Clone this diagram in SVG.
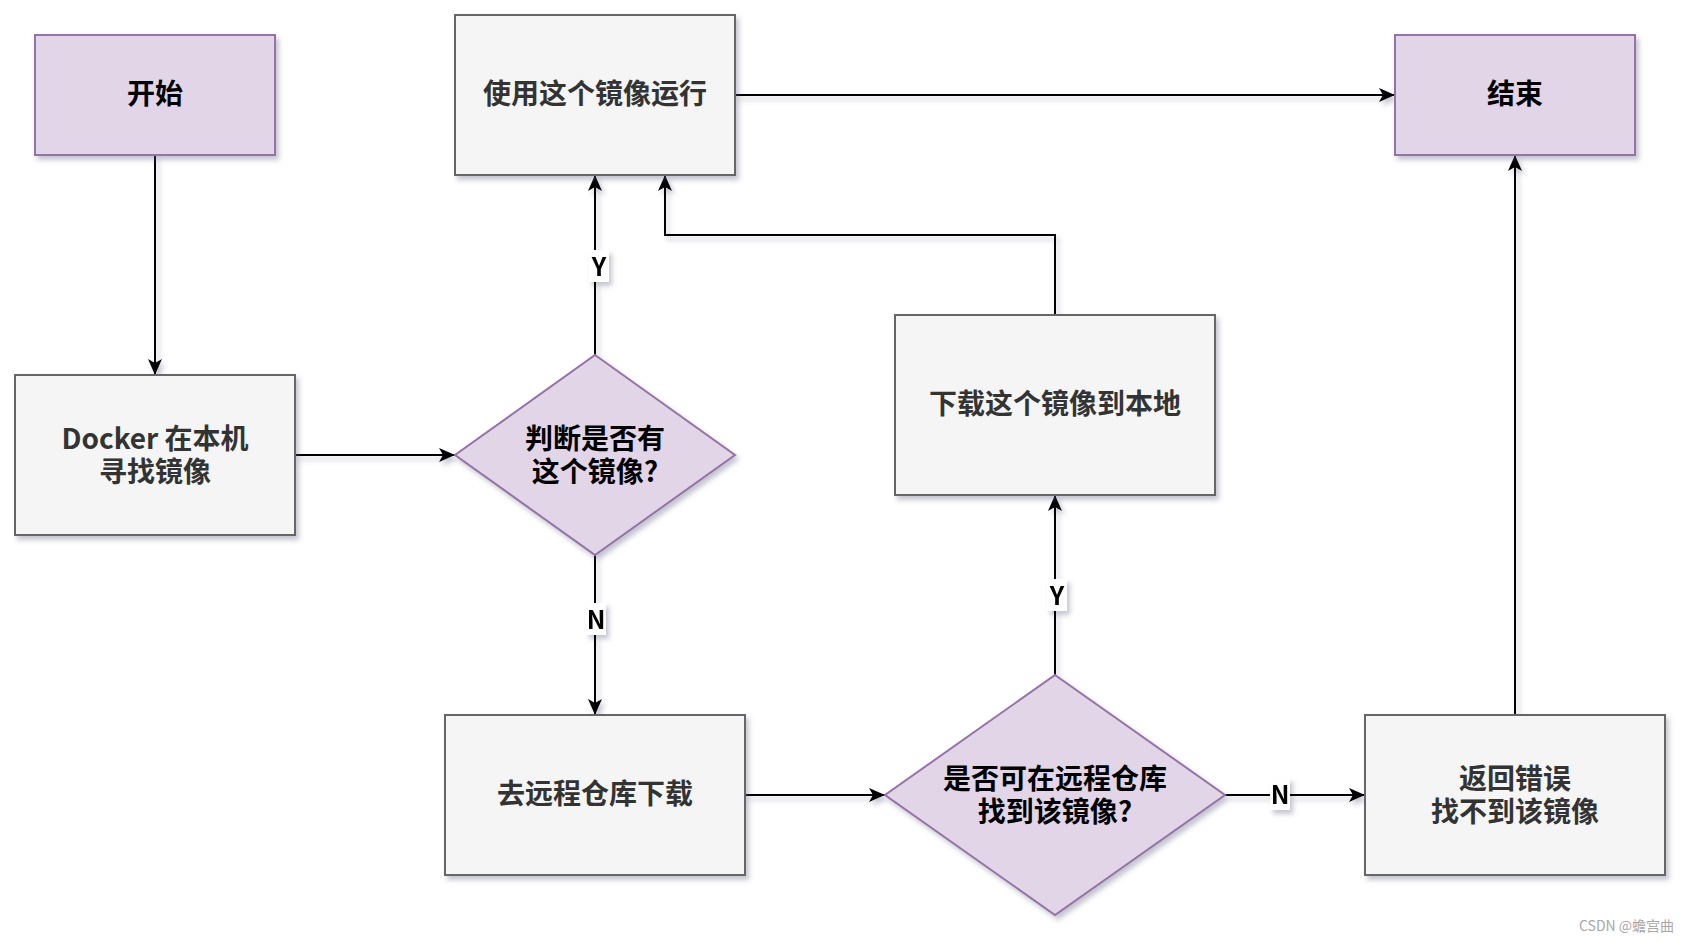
<svg xmlns="http://www.w3.org/2000/svg" width="1692" height="942" viewBox="0 0 1692 942">
<defs>
<filter id="sh" x="-10%" y="-10%" width="130%" height="130%">
<feDropShadow dx="3" dy="4" stdDeviation="2.5" flood-color="#5a5a80" flood-opacity="0.35"/>
</filter>
<marker id="arr" markerWidth="18" markerHeight="16" refX="16" refY="7" orient="auto" markerUnits="userSpaceOnUse">
<path d="M0,0 L16,7 L0,14 L4,7 Z" fill="#000"/>
</marker>
<style>
.gray{fill:#f5f5f5;stroke:#666666;stroke-width:2}
.purple{fill:#e1d5e7;stroke:#9673a6;stroke-width:2}
.t{font-family:"Noto Sans CJK SC","Noto Sans",sans-serif;font-weight:bold;font-size:28px;text-anchor:middle;dominant-baseline:central}
.tg{fill:#333333}
.tp{fill:#000000}
.edge{fill:none;stroke:#000;stroke-width:2;marker-end:url(#arr)}
.lbl{font-family:"Noto Sans CJK SC","Noto Sans",sans-serif;font-weight:bold;font-size:25px;text-anchor:middle;dominant-baseline:central;fill:#000}
.wm{font-family:"Noto Sans CJK SC","Noto Sans",sans-serif;font-size:14px;fill:#a8a8a8}
</style>
</defs>
<rect width="1692" height="942" fill="#ffffff"/>

<g id="connectors" filter="url(#sh)">
<path class="edge" d="M155,155 L155,375"/>
<path class="edge" d="M295,455 L455,455"/>
<path class="edge" d="M595,355 L595,175"/>
<path class="edge" d="M595,555 L595,715"/>
<path class="edge" d="M735,95 L1395,95"/>
<path class="edge" d="M1055,315 L1055,235 L665,235 L665,175"/>
<path class="edge" d="M745,795 L885,795"/>
<path class="edge" d="M1055,675 L1055,495"/>
<path class="edge" d="M1225,795 L1365,795"/>
<path class="edge" d="M1515,715 L1515,155"/>
<g id="labels">
<rect x="589" y="250" width="20" height="32" fill="#fff"/>
<text class="lbl" x="599" y="265">Y</text>
<rect x="586" y="603" width="20" height="32" fill="#fff"/>
<text class="lbl" x="596" y="618">N</text>
<rect x="1047" y="579" width="20" height="32" fill="#fff"/>
<text class="lbl" x="1057" y="594">Y</text>
<rect x="1270" y="778" width="20" height="32" fill="#fff"/>
<text class="lbl" x="1280" y="793">N</text>
</g>
</g>

<g id="start">
<rect class="purple" x="35" y="35" width="240" height="120" filter="url(#sh)"/>
<text class="t tp" x="155" y="92">开始</text>
</g>
<g id="docker-search">
<rect class="gray" x="15" y="375" width="280" height="160" filter="url(#sh)"/>
<text class="t tg" x="155" y="437">Docker 在本机<tspan x="155" dy="33">寻找镜像</tspan></text>
</g>
<g id="use-image">
<rect class="gray" x="455" y="15" width="280" height="160" filter="url(#sh)"/>
<text class="t tg" x="595" y="92">使用这个镜像运行</text>
</g>
<g id="check-local">
<polygon class="purple" points="595,355 735,455 595,555 455,455" filter="url(#sh)"/>
<text class="t tp" x="595" y="437">判断是否有<tspan x="595" dy="33">这个镜像?</tspan></text>
</g>
<g id="download-local">
<rect class="gray" x="895" y="315" width="320" height="180" filter="url(#sh)"/>
<text class="t tg" x="1055" y="402">下载这个镜像到本地</text>
</g>
<g id="end">
<rect class="purple" x="1395" y="35" width="240" height="120" filter="url(#sh)"/>
<text class="t tp" x="1515" y="92">结束</text>
</g>
<g id="remote-download">
<rect class="gray" x="445" y="715" width="300" height="160" filter="url(#sh)"/>
<text class="t tg" x="595" y="792">去远程仓库下载</text>
</g>
<g id="check-remote">
<polygon class="purple" points="1055,675 1225,795 1055,915 885,795" filter="url(#sh)"/>
<text class="t tp" x="1055" y="777">是否可在远程仓库<tspan x="1055" dy="33">找到该镜像?</tspan></text>
</g>
<g id="return-error">
<rect class="gray" x="1365" y="715" width="300" height="160" filter="url(#sh)"/>
<text class="t tg" x="1515" y="777">返回错误<tspan x="1515" dy="33">找不到该镜像</tspan></text>
</g>
<text class="wm" x="1579" y="931">CSDN @蟾宫曲</text>
</svg>
